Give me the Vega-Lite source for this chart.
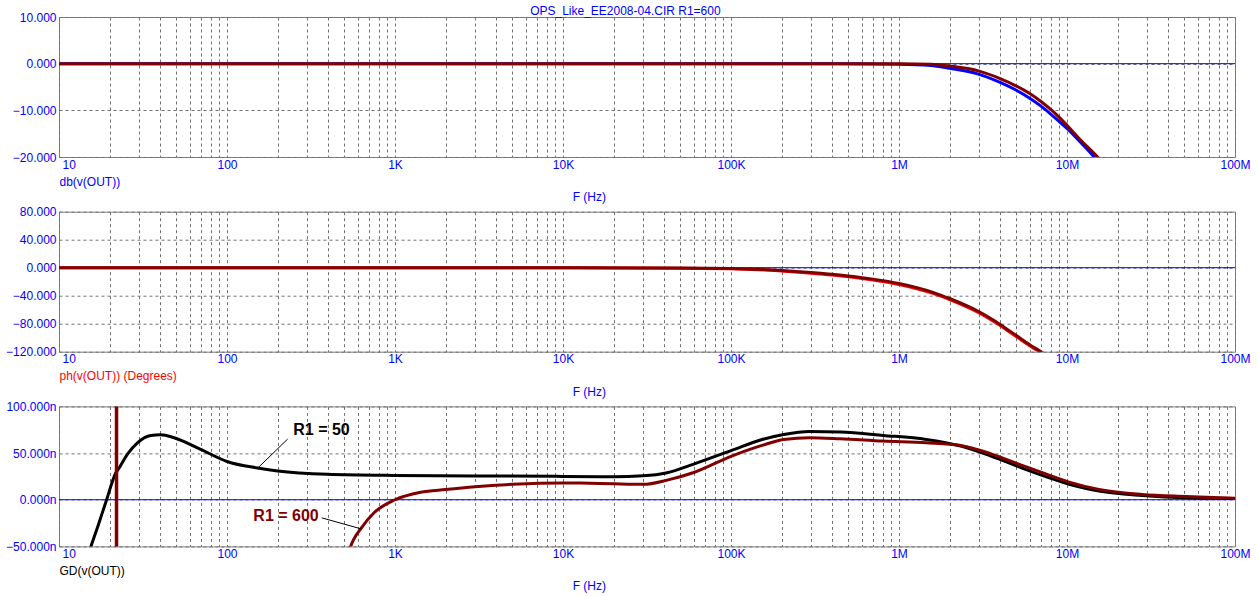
{
  "$schema": "https://vega.github.io/schema/vega-lite/v6.json",
  "background": "white",
  "autosize": {"type": "pad"},
  "padding": {"left": 0, "top": 0, "right": 5, "bottom": 0},
  "title": {"text": "OPS_Like_EE2008-04.CIR R1=600", "fontSize": 12, "fontWeight": "normal", "color": "#0000FF", "font": "Liberation Sans", "anchor": "middle", "offset": -17.8},
  "config": {
    "font": "Liberation Sans",
    "view": {"stroke": "#808080", "strokeWidth": 1},
    "axis": {"labelFont": "Liberation Sans", "labelFontSize": 12, "labelColor": "#0000FF", "grid": true, "gridColor": "#707070", "gridDash": [3, 3], "gridWidth": 1, "ticks": false, "domain": false, "labelOverlap": false, "labelFlush": false, "titleFont": "Liberation Sans", "titleFontWeight": "normal", "titleFontSize": 12}
  },
  "data": {"values": [
    {"p": "db", "s": "zero", "f": 10, "v": 0}, {"p": "db", "s": "zero", "f": 100000000, "v": 0},
    {"p": "ph", "s": "zero", "f": 10, "v": 0}, {"p": "ph", "s": "zero", "f": 100000000, "v": 0},
    {"p": "gd", "s": "zero", "f": 10, "v": 0}, {"p": "gd", "s": "zero", "f": 100000000, "v": 0},
    {"p": "db", "s": "b", "f": 10, "v": 0}, {"p": "db", "s": "b", "f": 100, "v": 0}, {"p": "db", "s": "b", "f": 1000, "v": 0}, {"p": "db", "s": "b", "f": 10000, "v": 0}, {"p": "db", "s": "b", "f": 100000, "v": 0}, {"p": "db", "s": "b", "f": 300000, "v": 0}, {"p": "db", "s": "b", "f": 1000000, "v": -0.1}, {"p": "db", "s": "b", "f": 1550000, "v": -0.37}, {"p": "db", "s": "b", "f": 2000000, "v": -1.0}, {"p": "db", "s": "b", "f": 3000000, "v": -2.3}, {"p": "db", "s": "b", "f": 4000000, "v": -4.0}, {"p": "db", "s": "b", "f": 5000000, "v": -5.7}, {"p": "db", "s": "b", "f": 6000000, "v": -7.4}, {"p": "db", "s": "b", "f": 7000000, "v": -9.1}, {"p": "db", "s": "b", "f": 8000000, "v": -10.8}, {"p": "db", "s": "b", "f": 9000000, "v": -12.4}, {"p": "db", "s": "b", "f": 10000000, "v": -13.9}, {"p": "db", "s": "b", "f": 12000000, "v": -16.8}, {"p": "db", "s": "b", "f": 14500000, "v": -20}, {"p": "db", "s": "b", "f": 16000000, "v": -22},
    {"p": "db", "s": "r", "f": 10, "v": 0}, {"p": "db", "s": "r", "f": 100, "v": 0}, {"p": "db", "s": "r", "f": 1000, "v": 0}, {"p": "db", "s": "r", "f": 10000, "v": 0}, {"p": "db", "s": "r", "f": 100000, "v": 0}, {"p": "db", "s": "r", "f": 300000, "v": 0}, {"p": "db", "s": "r", "f": 1000000, "v": 0}, {"p": "db", "s": "r", "f": 1550000, "v": -0.1}, {"p": "db", "s": "r", "f": 2000000, "v": -0.5}, {"p": "db", "s": "r", "f": 3000000, "v": -1.6}, {"p": "db", "s": "r", "f": 4000000, "v": -3.2}, {"p": "db", "s": "r", "f": 5000000, "v": -4.8}, {"p": "db", "s": "r", "f": 6000000, "v": -6.4}, {"p": "db", "s": "r", "f": 7000000, "v": -8.1}, {"p": "db", "s": "r", "f": 8000000, "v": -9.8}, {"p": "db", "s": "r", "f": 9000000, "v": -11.5}, {"p": "db", "s": "r", "f": 10000000, "v": -13.2}, {"p": "db", "s": "r", "f": 12000000, "v": -16.3}, {"p": "db", "s": "r", "f": 15200000, "v": -20}, {"p": "db", "s": "r", "f": 17000000, "v": -22},
    {"p": "ph", "s": "r1", "f": 10, "v": 0}, {"p": "ph", "s": "r1", "f": 1000, "v": 0}, {"p": "ph", "s": "r1", "f": 10000, "v": 0}, {"p": "ph", "s": "r1", "f": 30000, "v": -0.4}, {"p": "ph", "s": "r1", "f": 100000, "v": -1.5}, {"p": "ph", "s": "r1", "f": 200000, "v": -4.6}, {"p": "ph", "s": "r1", "f": 300000, "v": -7.8}, {"p": "ph", "s": "r1", "f": 400000, "v": -10.5}, {"p": "ph", "s": "r1", "f": 500000, "v": -13}, {"p": "ph", "s": "r1", "f": 700000, "v": -17.6}, {"p": "ph", "s": "r1", "f": 1000000, "v": -24}, {"p": "ph", "s": "r1", "f": 1280000, "v": -30}, {"p": "ph", "s": "r1", "f": 1610000, "v": -37}, {"p": "ph", "s": "r1", "f": 2000000, "v": -45.5}, {"p": "ph", "s": "r1", "f": 3000000, "v": -64.5}, {"p": "ph", "s": "r1", "f": 4000000, "v": -82.5}, {"p": "ph", "s": "r1", "f": 5000000, "v": -98.5}, {"p": "ph", "s": "r1", "f": 6000000, "v": -111.5}, {"p": "ph", "s": "r1", "f": 7000000, "v": -121.5}, {"p": "ph", "s": "r1", "f": 8000000, "v": -131},
    {"p": "ph", "s": "r2", "f": 10, "v": 0}, {"p": "ph", "s": "r2", "f": 1000, "v": 0}, {"p": "ph", "s": "r2", "f": 10000, "v": 0}, {"p": "ph", "s": "r2", "f": 30000, "v": -0.3}, {"p": "ph", "s": "r2", "f": 100000, "v": -1.2}, {"p": "ph", "s": "r2", "f": 200000, "v": -4}, {"p": "ph", "s": "r2", "f": 300000, "v": -6.8}, {"p": "ph", "s": "r2", "f": 400000, "v": -9.3}, {"p": "ph", "s": "r2", "f": 500000, "v": -11.8}, {"p": "ph", "s": "r2", "f": 700000, "v": -16.3}, {"p": "ph", "s": "r2", "f": 1000000, "v": -22.5}, {"p": "ph", "s": "r2", "f": 1280000, "v": -28.5}, {"p": "ph", "s": "r2", "f": 1610000, "v": -35.5}, {"p": "ph", "s": "r2", "f": 2000000, "v": -44}, {"p": "ph", "s": "r2", "f": 3000000, "v": -63}, {"p": "ph", "s": "r2", "f": 4000000, "v": -81}, {"p": "ph", "s": "r2", "f": 5000000, "v": -97}, {"p": "ph", "s": "r2", "f": 6000000, "v": -110}, {"p": "ph", "s": "r2", "f": 7000000, "v": -120}, {"p": "ph", "s": "r2", "f": 8000000, "v": -129},
    {"p": "gd", "s": "k", "f": 14, "v": -75}, {"p": "gd", "s": "k", "f": 15.5, "v": -50}, {"p": "gd", "s": "k", "f": 17, "v": -29}, {"p": "gd", "s": "k", "f": 19.2, "v": 0}, {"p": "gd", "s": "k", "f": 21.8, "v": 28.9}, {"p": "gd", "s": "k", "f": 22.8, "v": 34}, {"p": "gd", "s": "k", "f": 25.5, "v": 48.6}, {"p": "gd", "s": "k", "f": 29.3, "v": 61}, {"p": "gd", "s": "k", "f": 35.2, "v": 68.9}, {"p": "gd", "s": "k", "f": 40.3, "v": 69.6}, {"p": "gd", "s": "k", "f": 48.4, "v": 66.4}, {"p": "gd", "s": "k", "f": 69.7, "v": 54}, {"p": "gd", "s": "k", "f": 100, "v": 41}, {"p": "gd", "s": "k", "f": 152, "v": 34}, {"p": "gd", "s": "k", "f": 200, "v": 30.9}, {"p": "gd", "s": "k", "f": 396, "v": 27.3}, {"p": "gd", "s": "k", "f": 1000, "v": 26}, {"p": "gd", "s": "k", "f": 3000, "v": 25.5}, {"p": "gd", "s": "k", "f": 10000, "v": 25}, {"p": "gd", "s": "k", "f": 20000, "v": 24.7}, {"p": "gd", "s": "k", "f": 30000, "v": 25.6}, {"p": "gd", "s": "k", "f": 41700, "v": 28.9}, {"p": "gd", "s": "k", "f": 59400, "v": 37.9}, {"p": "gd", "s": "k", "f": 101000, "v": 52.9}, {"p": "gd", "s": "k", "f": 153000, "v": 64.6}, {"p": "gd", "s": "k", "f": 206000, "v": 70}, {"p": "gd", "s": "k", "f": 294000, "v": 73.2}, {"p": "gd", "s": "k", "f": 445000, "v": 72.5}, {"p": "gd", "s": "k", "f": 804000, "v": 68.9}, {"p": "gd", "s": "k", "f": 1450000, "v": 64.6}, {"p": "gd", "s": "k", "f": 2330000, "v": 57.5}, {"p": "gd", "s": "k", "f": 3530000, "v": 46.8}, {"p": "gd", "s": "k", "f": 5350000, "v": 34.2}, {"p": "gd", "s": "k", "f": 7620000, "v": 24.3}, {"p": "gd", "s": "k", "f": 10300000, "v": 16.4}, {"p": "gd", "s": "k", "f": 15500000, "v": 9.3}, {"p": "gd", "s": "k", "f": 28000000, "v": 4.6}, {"p": "gd", "s": "k", "f": 50800000, "v": 2.1}, {"p": "gd", "s": "k", "f": 100000000, "v": 1.4},
    {"p": "gd", "s": "r", "f": 530, "v": -60}, {"p": "gd", "s": "r", "f": 545, "v": -50}, {"p": "gd", "s": "r", "f": 568, "v": -42.5}, {"p": "gd", "s": "r", "f": 625, "v": -31.1}, {"p": "gd", "s": "r", "f": 750, "v": -14}, {"p": "gd", "s": "r", "f": 1000, "v": 0}, {"p": "gd", "s": "r", "f": 1420, "v": 8}, {"p": "gd", "s": "r", "f": 2000, "v": 11}, {"p": "gd", "s": "r", "f": 3000, "v": 14}, {"p": "gd", "s": "r", "f": 5000, "v": 16.5}, {"p": "gd", "s": "r", "f": 10000, "v": 18}, {"p": "gd", "s": "r", "f": 12700, "v": 17.8}, {"p": "gd", "s": "r", "f": 20000, "v": 17}, {"p": "gd", "s": "r", "f": 30000, "v": 16.5}, {"p": "gd", "s": "r", "f": 41700, "v": 21}, {"p": "gd", "s": "r", "f": 59400, "v": 28.9}, {"p": "gd", "s": "r", "f": 101000, "v": 46.8}, {"p": "gd", "s": "r", "f": 153000, "v": 58.2}, {"p": "gd", "s": "r", "f": 206000, "v": 64.6}, {"p": "gd", "s": "r", "f": 294000, "v": 66.4}, {"p": "gd", "s": "r", "f": 445000, "v": 65.3}, {"p": "gd", "s": "r", "f": 804000, "v": 62.8}, {"p": "gd", "s": "r", "f": 1450000, "v": 61}, {"p": "gd", "s": "r", "f": 2330000, "v": 58.2}, {"p": "gd", "s": "r", "f": 3530000, "v": 49.2}, {"p": "gd", "s": "r", "f": 5350000, "v": 37.1}, {"p": "gd", "s": "r", "f": 7620000, "v": 27.1}, {"p": "gd", "s": "r", "f": 10300000, "v": 18.9}, {"p": "gd", "s": "r", "f": 15500000, "v": 11.1}, {"p": "gd", "s": "r", "f": 28000000, "v": 5.7}, {"p": "gd", "s": "r", "f": 50800000, "v": 3.5}, {"p": "gd", "s": "r", "f": 100000000, "v": 1.7},
    {"p": "gd", "s": "spike", "f": 22, "v": -70, "v2": 120},
    {"p": "gd", "s": "lead", "f": 229.6, "v": 65.0, "f2": 152.4, "v2": 33.9},
    {"p": "gd", "s": "lead", "f": 366.4, "v": -19.4, "f2": 625, "v2": -31.1},
    {"p": "gd", "s": "txt50", "f": 248, "v": 74.6, "t": "R1 = 50"},
    {"p": "gd", "s": "txt600", "f": 143.5, "v": -17.5, "t": "R1 = 600"}
  ]},
  "spacing": 54.7,
  "bounds": "flush",
  "vconcat": [
    {
      "width": 1176, "height": 140,
      "title": {"text": "F (Hz)", "orient": "bottom", "anchor": "middle", "dx": -57.7, "offset": 5, "color": "#0000FF", "fontSize": 12, "fontWeight": "normal", "font": "Liberation Sans"},
      "transform": [{"filter": "datum.p == 'db'"}],
      "encoding": {
        "x": {"field": "f", "type": "quantitative", "scale": {"type": "log", "domain": [10, 100000000], "nice": false},
          "axis": {"values": [10,20,30,40,50,60,70,80,90,100,200,300,400,500,600,700,800,900,1000,2000,3000,4000,5000,6000,7000,8000,9000,10000,20000,30000,40000,50000,60000,70000,80000,90000,100000,200000,300000,400000,500000,600000,700000,800000,900000,1000000,2000000,3000000,4000000,5000000,6000000,7000000,8000000,9000000,10000000,20000000,30000000,40000000,50000000,60000000,70000000,80000000,90000000,100000000],
            "labelExpr": "datum.value == 10 ? '10' : datum.value == 100 ? '100' : datum.value == 1000 ? '1K' : datum.value == 10000 ? '10K' : datum.value == 100000 ? '100K' : datum.value == 1000000 ? '1M' : datum.value == 10000000 ? '10M' : datum.value == 100000000 ? '100M' : ''",
            "labelAlign": {"condition": {"test": "datum.value == 10", "value": "left"}, "value": "center"},
            "labelOffset": {"condition": {"test": "datum.value == 10", "value": 3}, "value": 0},
            "labelPadding": 2,
            "title": "db(v(OUT))", "titleColor": "#0000FF", "titleX": 0, "titleY": 24, "titleAlign": "left", "titleBaseline": "middle"}},
        "y": {"field": "v", "type": "quantitative", "scale": {"domain": [-20, 10], "nice": false, "zero": false},
          "axis": {"values": [-20, -10, 0, 10], "format": ".3f", "labelPadding": 3, "title": "M", "titleColor": "rgba(0,0,0,0)", "titleX": -58.3, "titleY": -15.5, "titleAngle": 0, "titleAlign": "left", "titleBaseline": "top"}}
      },
      "layer": [
        {"transform": [{"filter": "datum.s == 'zero'"}], "mark": {"type": "line", "color": "#0000FF", "strokeWidth": 1}},
        {"transform": [{"filter": "datum.s == 'b'"}], "mark": {"type": "line", "color": "#0000FF", "strokeWidth": 3, "interpolate": "monotone", "clip": true}},
        {"transform": [{"filter": "datum.s == 'r'"}], "mark": {"type": "line", "color": "#800000", "strokeWidth": 3, "interpolate": "monotone", "clip": true}}
      ]
    },
    {
      "width": 1176, "height": 140,
      "title": {"text": "F (Hz)", "orient": "bottom", "anchor": "middle", "dx": -57.7, "offset": 5, "color": "#0000FF", "fontSize": 12, "fontWeight": "normal", "font": "Liberation Sans"},
      "transform": [{"filter": "datum.p == 'ph'"}],
      "encoding": {
        "x": {"field": "f", "type": "quantitative", "scale": {"type": "log", "domain": [10, 100000000], "nice": false},
          "axis": {"values": [10,20,30,40,50,60,70,80,90,100,200,300,400,500,600,700,800,900,1000,2000,3000,4000,5000,6000,7000,8000,9000,10000,20000,30000,40000,50000,60000,70000,80000,90000,100000,200000,300000,400000,500000,600000,700000,800000,900000,1000000,2000000,3000000,4000000,5000000,6000000,7000000,8000000,9000000,10000000,20000000,30000000,40000000,50000000,60000000,70000000,80000000,90000000,100000000],
            "labelExpr": "datum.value == 10 ? '10' : datum.value == 100 ? '100' : datum.value == 1000 ? '1K' : datum.value == 10000 ? '10K' : datum.value == 100000 ? '100K' : datum.value == 1000000 ? '1M' : datum.value == 10000000 ? '10M' : datum.value == 100000000 ? '100M' : ''",
            "labelAlign": {"condition": {"test": "datum.value == 10", "value": "left"}, "value": "center"},
            "labelOffset": {"condition": {"test": "datum.value == 10", "value": 3}, "value": 0},
            "labelPadding": 2,
            "title": "ph(v(OUT)) (Degrees)", "titleColor": "#FF0000", "titleX": 0, "titleY": 24, "titleAlign": "left", "titleBaseline": "middle"}},
        "y": {"field": "v", "type": "quantitative", "scale": {"domain": [-120, 80], "nice": false, "zero": false},
          "axis": {"values": [-120, -80, -40, 0, 40, 80], "format": ".3f", "labelPadding": 3, "title": null}}
      },
      "layer": [
        {"transform": [{"filter": "datum.s == 'zero'"}], "mark": {"type": "line", "color": "#0000FF", "strokeWidth": 1}},
        {"transform": [{"filter": "datum.s == 'r1'"}], "mark": {"type": "line", "color": "#FF0000", "strokeWidth": 3, "interpolate": "monotone", "clip": true}},
        {"transform": [{"filter": "datum.s == 'r2'"}], "mark": {"type": "line", "color": "#800000", "strokeWidth": 3, "interpolate": "monotone", "clip": true}}
      ]
    },
    {
      "width": 1176, "height": 140,
      "title": {"text": "F (Hz)", "orient": "bottom", "anchor": "middle", "dx": -57.7, "offset": 5, "color": "#0000FF", "fontSize": 12, "fontWeight": "normal", "font": "Liberation Sans"},
      "transform": [{"filter": "datum.p == 'gd'"}],
      "encoding": {
        "x": {"field": "f", "type": "quantitative", "scale": {"type": "log", "domain": [10, 100000000], "nice": false},
          "axis": {"values": [10,20,30,40,50,60,70,80,90,100,200,300,400,500,600,700,800,900,1000,2000,3000,4000,5000,6000,7000,8000,9000,10000,20000,30000,40000,50000,60000,70000,80000,90000,100000,200000,300000,400000,500000,600000,700000,800000,900000,1000000,2000000,3000000,4000000,5000000,6000000,7000000,8000000,9000000,10000000,20000000,30000000,40000000,50000000,60000000,70000000,80000000,90000000,100000000],
            "labelExpr": "datum.value == 10 ? '10' : datum.value == 100 ? '100' : datum.value == 1000 ? '1K' : datum.value == 10000 ? '10K' : datum.value == 100000 ? '100K' : datum.value == 1000000 ? '1M' : datum.value == 10000000 ? '10M' : datum.value == 100000000 ? '100M' : ''",
            "labelAlign": {"condition": {"test": "datum.value == 10", "value": "left"}, "value": "center"},
            "labelOffset": {"condition": {"test": "datum.value == 10", "value": 3}, "value": 0},
            "labelPadding": 2,
            "title": "GD(v(OUT))", "titleColor": "#000000", "titleX": 0, "titleY": 24, "titleAlign": "left", "titleBaseline": "middle"}},
        "y": {"field": "v", "type": "quantitative", "scale": {"domain": [-50, 100], "nice": false, "zero": false},
          "axis": {"values": [-50, 0, 50, 100], "labelExpr": "format(datum.value, '.3f') + 'n'", "labelPadding": 3, "title": null}}
      },
      "layer": [
        {"transform": [{"filter": "datum.s == 'zero'"}], "mark": {"type": "line", "color": "#0000FF", "strokeWidth": 1}},
        {"transform": [{"filter": "datum.s == 'k'"}], "mark": {"type": "line", "color": "#000000", "strokeWidth": 3, "interpolate": "monotone", "clip": true}},
        {"transform": [{"filter": "datum.s == 'r'"}], "mark": {"type": "line", "color": "#800000", "strokeWidth": 3, "interpolate": "monotone", "clip": true}},
        {"transform": [{"filter": "datum.s == 'spike'"}], "mark": {"type": "rule", "color": "#800000", "strokeWidth": 3.5, "clip": true}, "encoding": {"y2": {"field": "v2"}}},
        {"transform": [{"filter": "datum.s == 'lead'"}], "mark": {"type": "rule", "color": "#000000", "strokeWidth": 1}, "encoding": {"x2": {"field": "f2"}, "y2": {"field": "v2"}}},
        {"transform": [{"filter": "datum.s == 'txt50'"}], "mark": {"type": "text", "align": "left", "baseline": "middle", "fontSize": 16, "fontWeight": "bold", "font": "Liberation Sans", "color": "#000000"}, "encoding": {"text": {"field": "t"}}},
        {"transform": [{"filter": "datum.s == 'txt600'"}], "mark": {"type": "text", "align": "left", "baseline": "middle", "fontSize": 16, "fontWeight": "bold", "font": "Liberation Sans", "color": "#800000"}, "encoding": {"text": {"field": "t"}}}
      ]
    }
  ]
}
